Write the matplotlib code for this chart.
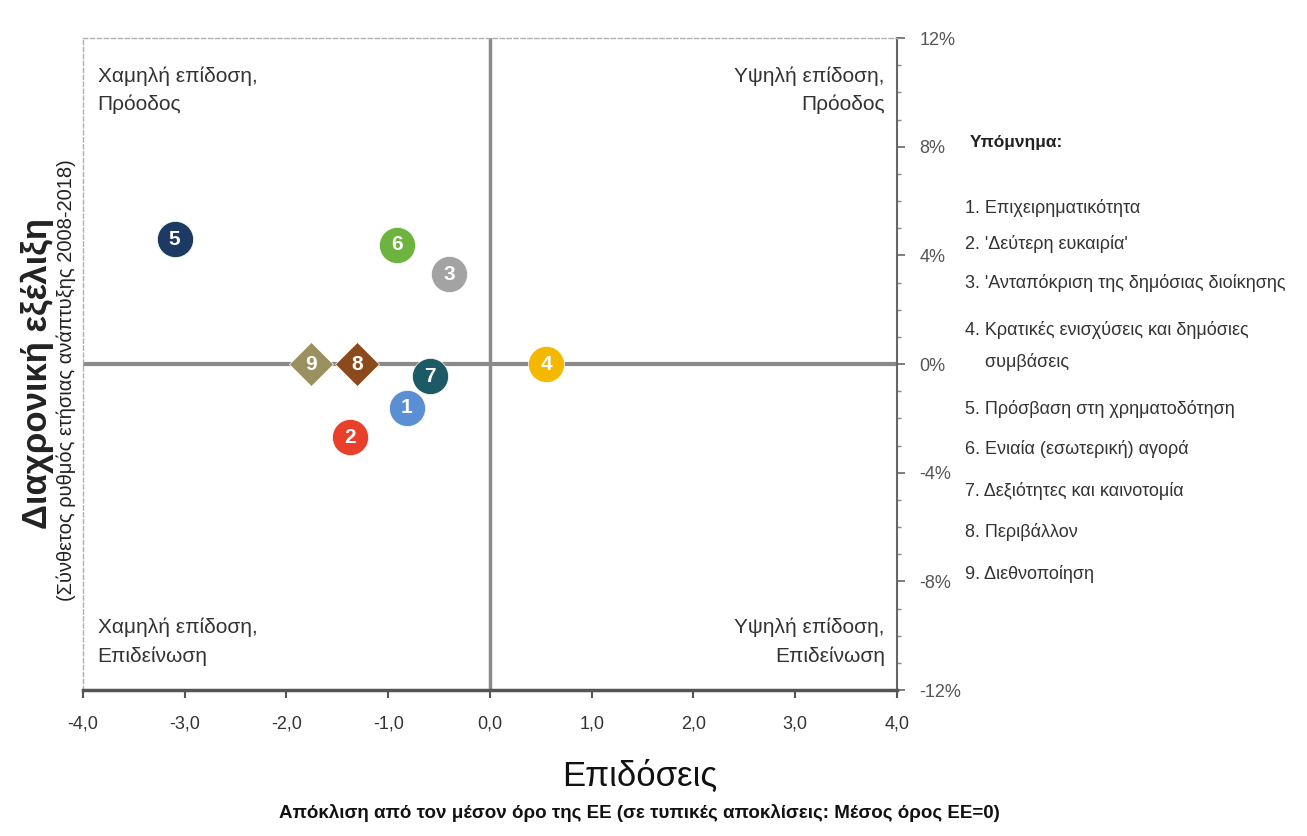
import matplotlib
matplotlib.use("Agg")
import matplotlib.pyplot as plt
import matplotlib.ticker as mticker
from matplotlib import font_manager

names = {f.name for f in font_manager.fontManager.ttflist}
FAM = ["Liberation Sans Narrow", "DejaVu Sans"] if "Liberation Sans Narrow" in names else ["Liberation Sans", "DejaVu Sans"]
plt.rcParams["font.family"] = FAM

# data
labels = ["1", "2", "3", "4", "5", "6", "7", "8", "9"]
performance = [-0.82, -1.38, -0.40, 0.55, -3.10, -0.91, -0.59, -1.31, -1.76]
growth = [-1.6, -2.7, 3.3, 0.0, 4.6, 4.4, -0.45, 0.0, 0.0]
colors = ["#5b8fd4", "#e8402a", "#a3a3a3", "#f5b800", "#1c3a63",
          "#6db33f", "#1d5a66", "#8b4a1c", "#9a9060"]
shapes = ["o", "o", "o", "o", "o", "o", "o", "D", "D"]
legend_items = [
    "1. Επιχειρηματικότητα",
    "2. 'Δεύτερη ευκαιρία'",
    "3. 'Ανταπόκριση της δημόσιας διοίκησης",
    "4. Κρατικές ενισχύσεις και δημόσιες\n    συμβάσεις",
    "5. Πρόσβαση στη χρηματοδότηση",
    "6. Ενιαία (εσωτερική) αγορά",
    "7. Δεξιότητες και καινοτομία",
    "8. Περιβάλλον",
    "9. Διεθνοποίηση",
]
x_ticks = [-4, -3, -2, -1, 0, 1, 2, 3, 4]
y_ticks = [-12, -8, -4, 0, 4, 8, 12]

TXT = "#333333"
fig = plt.figure(figsize=(13.07, 8.36), dpi=100)
ax = fig.add_axes([0.0635, 0.1746, 0.6228, 0.7799])
ax.set_xlim(-4, 4)
ax.set_ylim(-12, 12)

ax.axvline(0, color="#8a8a8a", lw=2.5, zorder=1)
ax.axhline(0, color="#8a8a8a", lw=3, zorder=1)

for xv, yv, c, m, lab in zip(performance, growth, colors, shapes, labels):
    ax.plot(xv, yv, marker=m, ms=26 if m == "o" else 22, color=c,
            markeredgecolor="white", markeredgewidth=0.5, linestyle="none", zorder=3)
    ax.text(xv, yv, lab, color="white", fontsize=15, fontweight="bold",
            ha="center", va="center", zorder=4)

# spines
for s in ["top", "left"]:
    ax.spines[s].set_linestyle((0, (3, 2)))
    ax.spines[s].set_color("#b0b0b0")
    ax.spines[s].set_linewidth(1)
ax.spines["bottom"].set_color("#555555")
ax.spines["bottom"].set_linewidth(2.5)
ax.spines["right"].set_color("#666666")
ax.spines["right"].set_linewidth(1.5)

ax.set_xticks(x_ticks)
ax.set_xticklabels([f"{v:.1f}".replace(".", ",") for v in x_ticks])
ax.tick_params(axis="x", direction="out", length=6, width=1.5, color="#555555",
               labelsize=13, labelcolor=TXT, pad=12)

ax.yaxis.tick_right()
ax.set_yticks(y_ticks)
ax.set_yticklabels([f"{v}%" for v in y_ticks])
ax.yaxis.set_minor_locator(mticker.MultipleLocator(1))
ax.tick_params(axis="y", which="major", direction="out", length=6, width=1.2,
               color="#666666", labelsize=13, labelcolor="#555555", pad=10)
ax.tick_params(axis="y", which="minor", direction="out", length=3, width=1,
               color="#888888")

# quadrant texts
qkw = dict(fontsize=15, color=TXT, transform=ax.transAxes, linespacing=1.6)
ax.text(0.018, 0.957, "Χαμηλή επίδοση,\nΠρόοδος", ha="left", va="top", **qkw)
ax.text(0.985, 0.957, "Υψηλή επίδοση,\nΠρόοδος", ha="right", va="top", **qkw)
ax.text(0.018, 0.037, "Χαμηλή επίδοση,\nΕπιδείνωση", ha="left", va="bottom", **qkw)
ax.text(0.985, 0.037, "Υψηλή επίδοση,\nΕπιδείνωση", ha="right", va="bottom", **qkw)

# axis titles
fig.text(0.0285, 0.553, "Διαχρονική εξέλιξη", rotation=90, fontsize=25,
         fontweight="bold", color="#222222", ha="center", va="center")
fig.text(0.0505, 0.545, "(Σύνθετος ρυθμός ετήσιας ανάπτυξης 2008-2018)",
         rotation=90, fontsize=14.5, color="#222222", ha="center", va="center")
fig.text(0.4895, 0.072, "Επιδόσεις", fontsize=25, color="#111111",
         ha="center", va="center")
fig.text(0.4895, 0.028, "Απόκλιση από τον μέσον όρο της ΕΕ (σε τυπικές αποκλίσεις: Μέσος όρος ΕΕ=0)",
         fontsize=13.5, fontweight="bold", color="#111111", ha="center", va="center")

# legend
fig.text(0.742, 0.829, "Υπόμνημα:", fontsize=12.5, fontweight="bold",
         color="#222222", ha="left", va="center")
legend_y = [0.751, 0.708, 0.661, 0.586, 0.511, 0.463, 0.413, 0.364, 0.313]
for yy, item in zip(legend_y, legend_items):
    fig.text(0.738, yy, item, fontsize=13, color=TXT, ha="left", va="center",
             linespacing=2.0)

fig.savefig("out.png", dpi=100)
